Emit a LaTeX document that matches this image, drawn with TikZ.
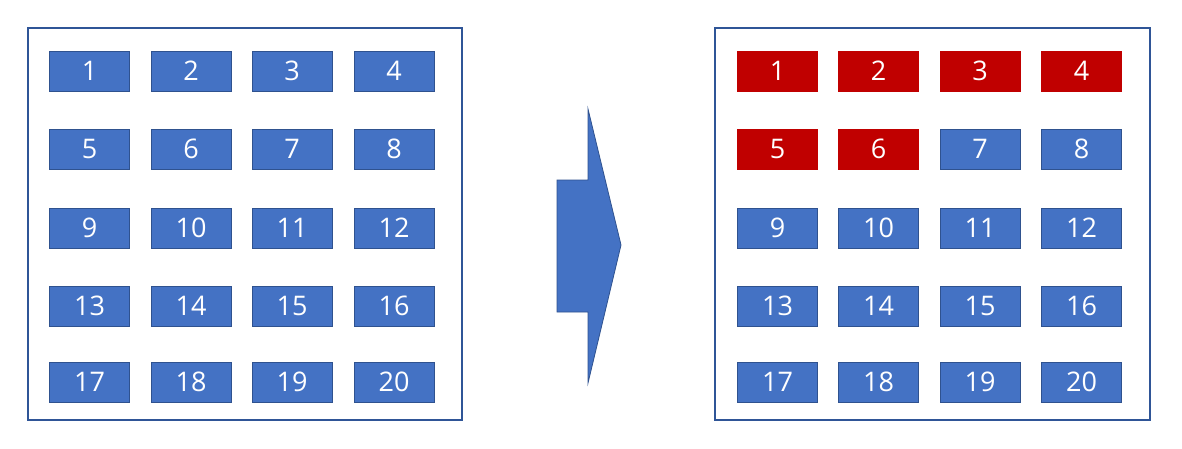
\documentclass[tikz,border=0pt]{standalone}
\usepackage{fontspec}
\setmainfont{Open Sans}
\usetikzlibrary{positioning}
\definecolor{cellblue}{HTML}{4472C4}
\definecolor{cellline}{HTML}{2F528F}
\definecolor{cellred}{HTML}{C00000}
\definecolor{frameline}{HTML}{2F5597}
\tikzset{
  frame/.style    = {draw=frameline, line width=1.3pt, fill=white, inner sep=0pt},
  cell/.style     = {draw=cellline, line width=0.8pt, fill=cellblue, text=white,
                     minimum width=80pt, minimum height=40pt, inner sep=0pt,
                     font=\fontsize{27}{30}\selectfont},
  hotcell/.style  = {cell, draw=cellred, fill=cellred},
  bigarrow/.style = {draw=cellline, line width=0.8pt, fill=cellblue},
}
\begin{document}
\begin{tikzpicture}[x=1pt,y=-1pt]
  \useasboundingbox (0,0) rectangle (1182,448);
  \fill[white] (0,0) rectangle (1182,448);
  % the two frames
  \node[frame,minimum width=434pt,minimum height=392pt] (before) at (245,224) {};
  \node[frame,minimum width=435pt,minimum height=392pt] (after) at (932.5,224) {};
  % left grid: all cells blue
  \foreach \r/\y in {0/71,1/149,2/228,3/306,4/382}
    \foreach \c/\x in {1/89.5,2/191,3/292,4/394} {
      \pgfmathtruncatemacro{\n}{4*\r+\c}
      \node[cell] (l\n) at (\x,\y) {\n};
    }
  % right grid: first six cells marked red
  \foreach \r/\y in {0/71,1/149,2/228,3/306,4/382}
    \foreach \c/\x in {1/777.5,2/878.5,3/980,4/1081.5} {
      \pgfmathtruncatemacro{\n}{4*\r+\c}
      \ifnum\n<7
        \node[hotcell] (r\n) at (\x,\y) {\n};
      \else
        \node[cell] (r\n) at (\x,\y) {\n};
      \fi
    }
  % block arrow between the frames
  \draw[bigarrow] (557,180) -- (588,180) -- (588,109) -- (621,245)
    -- (588,383) -- (588,312) -- (557,312) -- cycle;
\end{tikzpicture}
\end{document}
